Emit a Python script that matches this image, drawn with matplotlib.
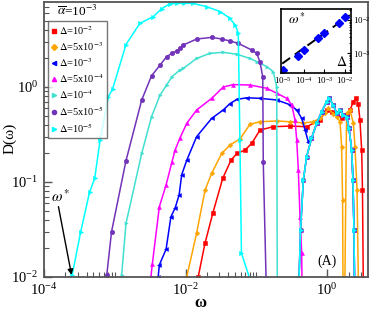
import numpy as np
import matplotlib
matplotlib.use("Agg")
import matplotlib.pyplot as plt
from matplotlib.lines import Line2D

plt.rcParams["font.family"] = ["Liberation Serif", "DejaVu Serif"]
plt.rcParams["mathtext.fontset"] = "stix"

# D(omega) curves, one per Delta (alpha-bar = 1e-3)
w_1e5 = [2.5e-4, 3.3e-4, 4.4e-4, 5.2e-4, 6.2e-4, 8.1e-4, 9.3e-4, 1.44e-3, 2.27e-3, 3.5e-3,
         4.6e-3, 6.0e-3, 7.5e-3, 9.5e-3, 1.26e-2, 2.0e-2, 3.1e-2, 4.2e-2, 5.0e-2, 5.55e-2,
         5.85e-2, 6.15e-2, 8.1e-2]
d_1e5 = [0.0105, 0.030, 0.078, 0.109, 0.277, 0.79, 0.95, 2.8, 4.7, 5.5,
         6.7, 7.5, 7.6, 7.6, 7.6, 7.0, 6.2, 5.3, 4.5, 3.7,
         0.275, 0.0178, 0.0095]

w_5e5 = [7.7e-4, 9.0e-4, 1.44e-3, 2.4e-3, 3.3e-3, 4.35e-3, 5.4e-3, 6.4e-3, 7.5e-3, 8.3e-3,
         9.3e-3, 1.43e-2, 2.34e-2, 3.24e-2, 4.24e-2, 5.55e-2, 8.6e-2, 0.101, 0.112, 0.123,
         0.125, 0.137]
d_5e5 = [0.0105, 0.030, 0.168, 0.73, 1.31, 1.7, 2.09, 2.26, 2.4, 2.55,
         2.77, 3.2, 3.33, 3.2, 3.05, 2.88, 2.45, 2.26, 1.85, 1.28,
         0.164, 0.0095]

w_1e4 = [1.25e-3, 1.44e-3, 2.4e-3, 3.3e-3, 4.35e-3, 5.4e-3, 6.4e-3, 8.3e-3, 9.3e-3, 1.43e-2,
         2.2e-2, 3.4e-2, 5.3e-2, 8.1e-2, 0.101, 0.14, 0.173, 0.194, 0.197]
d_1e4 = [0.0105, 0.0367, 0.2, 0.486, 0.82, 1.05, 1.28, 1.51, 1.57, 2.0,
         2.26, 2.32, 2.21, 2.0, 1.85, 1.64, 1.45, 1.0, 0.0095]

w_5e4 = [3.24e-3, 3.39e-3, 4.26e-3, 5.3e-3, 6.4e-3, 7.1e-3, 8.3e-3, 1.04e-2, 1.43e-2, 2.34e-2,
         3.4e-2, 4.7e-2, 8.1e-2, 0.14, 0.194, 0.268, 0.315, 0.351, 0.371, 0.391,
         0.413, 0.436, 0.44]
d_5e4 = [0.0101, 0.0137, 0.055, 0.093, 0.161, 0.217, 0.289, 0.415, 0.573, 0.76,
         1.0, 1.06, 1.05, 0.97, 0.86, 0.76, 0.65, 0.45, 0.277, 0.134,
         0.043, 0.018, 0.0095]

w_1e3 = [4.1e-3, 4.26e-3, 5.3e-3, 6.2e-3, 7.1e-3, 8.1e-3, 8.8e-3, 1.04e-2, 1.43e-2, 2.34e-2,
         3.4e-2, 4.24e-2, 5.3e-2, 7.3e-2, 0.112, 0.194, 0.30, 0.371, 0.436, 0.486, 0.54]
d_1e3 = [0.0101, 0.0134, 0.0196, 0.043, 0.053, 0.073, 0.119, 0.17, 0.30, 0.468,
         0.573, 0.67, 0.74, 0.77, 0.76, 0.73, 0.65, 0.573, 0.468, 0.355, 0.266]

# high-frequency peak shared by the small-Delta curves
band_w = [0.40, 0.42, 0.46, 0.513, 0.60, 0.71, 0.836, 0.98, 1.07, 1.22,
          1.36, 1.52, 1.69, 1.88, 2.03, 2.22, 2.31, 2.39, 2.43]
band_d = [0.0095, 0.031, 0.105, 0.185, 0.288, 0.415, 0.55, 0.70, 0.76, 0.646,
          0.53, 0.573, 0.507, 0.487, 0.37, 0.217, 0.105, 0.031, 0.0095]

w_5e3 = [1.04e-2, 1.43e-2, 1.88e-2, 2.34e-2, 3.24e-2, 4.24e-2, 5.86e-2, 8.1e-2, 0.112, 0.194,
         0.30, 0.46, 0.637, 0.79, 0.93, 1.04, 1.22, 1.36, 1.52, 1.6,
         1.65, 1.67, 1.78, 1.88, 2.1, 2.34, 2.47, 2.64, 2.75]
d_5e3 = [0.0101, 0.0289, 0.082, 0.124, 0.20, 0.245, 0.284, 0.404, 0.431, 0.439,
         0.431, 0.418, 0.431, 0.468, 0.528, 0.597, 0.52, 0.487, 0.431, 0.235,
         0.065, 0.0095, 0.0095, 0.528, 0.573, 0.415, 0.235, 0.082, 0.0095]

w_1e2 = [1.51e-2, 1.88e-2, 2.42e-2, 3.34e-2, 4.38e-2, 5.32e-2, 6.9e-2, 8.6e-2, 0.112, 0.173,
         0.30, 0.513, 0.79, 0.98, 1.16, 1.36, 1.6, 1.88, 2.1, 2.34,
         2.55, 2.75, 2.9, 3.07, 3.15, 3.23]
d_1e2 = [0.0101, 0.0227, 0.0468, 0.109, 0.17, 0.20, 0.217, 0.255, 0.352, 0.382,
         0.388, 0.382, 0.45, 0.573, 0.55, 0.53, 0.468, 0.507, 0.573, 0.70,
         0.76, 0.66, 0.45, 0.217, 0.082, 0.0095]

# inset: omega* vs Delta
delta = [1e-5, 5e-5, 1e-4, 5e-4, 1e-3, 5e-3, 1e-2]
omega_star = [3.0e-4, 8.1e-4, 1.2e-3, 2.8e-3, 4.0e-3, 8.3e-3, 1.2e-2]
guide_delta = [9e-6, 1.7e-2]
guide_omega = [4.8e-4, 1.4e-2]

labels = [r"$\Delta$=10$^{-2}$", r"$\Delta$=5x10$^{-3}$", r"$\Delta$=10$^{-3}$",
          r"$\Delta$=5x10$^{-4}$", r"$\Delta$=10$^{-4}$", r"$\Delta$=5x10$^{-5}$",
          r"$\Delta$=10$^{-5}$"]
colors = ["#FF0000", "#FFA500", "#0000FF", "#FF00FF", "#40E0D0", "#7233B8", "#00FFFF"]
markers = ["s", "D", "<", "^", ">", "o", ">"]
msizes = [2.8, 2.3, 2.8, 2.8, 2.3, 3.2, 3.0]

blue_w = np.concatenate([w_1e3, band_w[4:]])
blue_d = np.concatenate([d_1e3, band_d[4:]])

series = [
    [(w_1e2, d_1e2)],
    [(w_5e3, d_5e3)],
    [(blue_w, blue_d)],
    [(w_5e4, d_5e4), (band_w, band_d)],
    [(w_1e4, d_1e4), (band_w, band_d)],
    [(w_5e5, d_5e5), (band_w, band_d)],
    [(w_1e5, d_1e5), (band_w, band_d)],
]

fig = plt.figure(figsize=(3.7, 3.1), dpi=100)
ax = fig.add_axes([44 / 370, 33 / 310, 324 / 370, 275 / 310])

for segs, c, m, ms in zip(series, colors, markers, msizes):
    for w, d in segs:
        ax.plot(w, d, color=c, marker=m, markersize=ms, lw=1.1,
                markeredgewidth=0.4)

ax.set_xscale("log")
ax.set_yscale("log")
ax.set_xlim(1e-4, 3.77)
ax.set_ylim(1e-2, 7.85)
ax.set_xticks([1e-4, 1e-2, 1e0])
minor_x = [k * 1e-4 for k in range(2, 11)] + [k * 1e-2 for k in range(2, 11)] + [2.0, 3.0]
ax.set_xticks(minor_x, minor=True)
ax.set_xticklabels([], minor=True)

gray = "#555555"
for s in ax.spines.values():
    s.set_color(gray)
    s.set_linewidth(1.3)
ax.tick_params(which="both", direction="in", top=False, right=False, color=gray,
               labelsize=10.5)
ax.tick_params(which="major", length=6, width=1.0, pad=4)
ax.tick_params(which="minor", length=3.5, width=0.8)

fig.text(200 / 370, 1 - 303 / 310, "ω", fontsize=12, fontweight="bold",
         ha="center", va="center")
fig.text(10 / 370, 1 - 138 / 310, "D(ω)", fontsize=11, rotation=90,
         ha="center", va="center")

ax.annotate("", xy=(2.45e-4, 0.0105), xytext=(1.6e-4, 0.055),
            arrowprops=dict(arrowstyle="-|>", color="black", lw=1.0, mutation_scale=8,
                            shrinkA=0, shrinkB=0))
ax.text(1.7e-4, 0.057, r"$\omega^*$", ha="center", va="bottom", fontsize=11)
ax.text(0.875, 0.058, "(A)", transform=ax.transAxes, ha="center", va="center", fontsize=10)
ax.text(0.04, 0.965, r"$\overline{\alpha}$=10$^{-3}$", transform=ax.transAxes,
        ha="left", va="center", fontsize=9.5)

handles = [Line2D([], [], ls="none", marker=m, color=c, markersize=3.0)
           for c, m in zip(colors, markers)]
leg = ax.legend(handles, labels, loc="upper left", bbox_to_anchor=(0.012, 0.931),
                borderaxespad=0, fontsize=7.5, handlelength=0.5, handletextpad=0.3,
                labelspacing=0.3, borderpad=0.3, frameon=True, fancybox=False)
leg.get_frame().set_edgecolor(gray)
leg.get_frame().set_linewidth(1.0)

# inset
ins = fig.add_axes([281 / 370, 1 - 73 / 310, 70 / 370, 64 / 310])
ins.plot(guide_delta, guide_omega, color="black", ls=(0, (5, 3)), lw=1.4)
ins.plot(delta, omega_star, ls="none", marker="D", color="#0000FF", markersize=4.5)
ins.set_xscale("log")
ins.set_yscale("log")
ins.set_xlim(7.9e-6, 1.95e-2)
ins.set_ylim(2.5e-4, 2.15e-2)
ins.set_xticks([1e-5, 1e-4, 1e-3, 1e-2])
ins.set_yticks([1e-3, 1e-2])
ins.yaxis.tick_right()
ins.tick_params(which="both", direction="in", labelsize=6.5, left=False, top=False)
ins.tick_params(which="major", length=3, pad=1.5)
ins.tick_params(which="minor", length=1.5)
for s in ins.spines.values():
    s.set_linewidth(1.2)
ins.text(0.1, 0.85, r"$\omega^*$", transform=ins.transAxes, ha="left", va="center", fontsize=10)
ins.text(0.87, 0.17, r"$\Delta$", transform=ins.transAxes, ha="center", va="center", fontsize=10)

fig.savefig("out.png", dpi=100)
